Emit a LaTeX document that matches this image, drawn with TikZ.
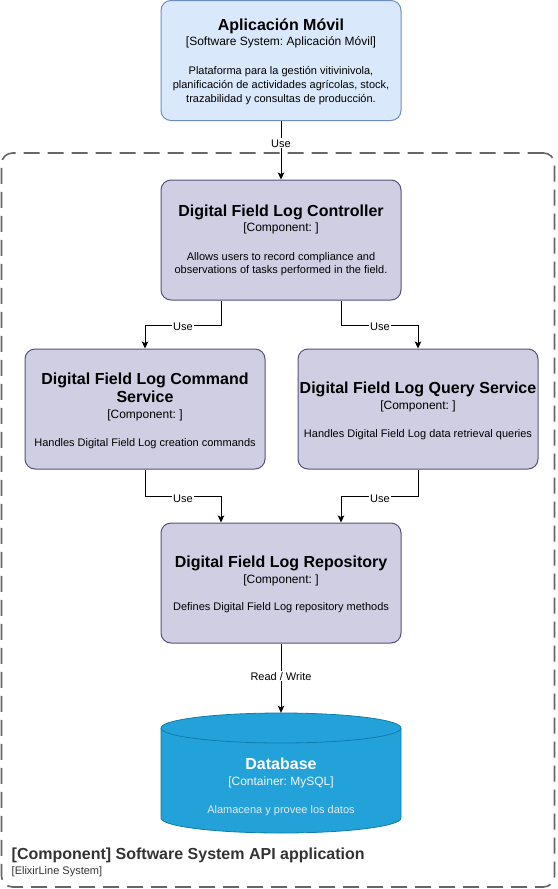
\documentclass[tikz,border=0pt]{standalone}
\usepackage{fontspec}
\setmainfont{Liberation Sans}
\usetikzlibrary{arrows.meta}
\frenchspacing
\definecolor{appfill}{HTML}{DAE8FC}
\definecolor{appline}{HTML}{6C8EBF}
\definecolor{compfill}{HTML}{D0CEE2}
\definecolor{compline}{HTML}{56517E}
\definecolor{dbfill}{HTML}{23A2D9}
\definecolor{dbline}{HTML}{0E7DAD}
\definecolor{bndline}{HTML}{666666}
\definecolor{bndtext}{HTML}{333333}
\definecolor{dbsub}{HTML}{F2F6F9}
\definecolor{dbdesc}{HTML}{E2E9EE}
\begin{document}
\begin{tikzpicture}[x=1pt,y=1pt,
  box/.style={draw, rounded corners=10pt, minimum width=240pt, minimum height=120pt, line width=1pt, inner sep=0pt},
  appbox/.style={box, fill=appfill, draw=appline},
  compbox/.style={box, fill=compfill, draw=compline},
  ttl/.style={font=\bfseries\fontsize{16}{19}\selectfont, inner sep=0pt, anchor=base},
  typ/.style={font=\fontsize{12}{14}\selectfont, inner sep=0pt, anchor=base},
  dsc/.style={font=\fontsize{11}{13}\selectfont, inner sep=0pt, anchor=base},
  rel/.style={draw=black, line width=0.9pt, -{Stealth[length=7pt,width=6.5pt,inset=1.5pt]}},
  rlabel/.style={fill=white, font=\fontsize{11}{13}\selectfont, inner sep=1pt, anchor=base},
  bnd/.style={draw=bndline, rounded corners=11pt, line width=1.6pt, dash pattern=on 16pt off 8pt, inner sep=0pt}
]
\useasboundingbox (0,0) rectangle (557,-889);

% boundary
\node[bnd, minimum width=553pt, minimum height=734pt] (bound) at (278,-520) {};
\node[font=\bfseries\fontsize{16}{19}\selectfont, text=bndtext, inner sep=0pt, anchor=base west] (bndT) at (11.5,-859.3) {[Component] Software System API application};
\node[font=\fontsize{11}{13}\selectfont, text=bndtext, inner sep=0pt, anchor=base west] (bndS) at (11.5,-874.3) {[ElixirLine System]};

% boxes
\node[appbox] (app) at (281,-60.5) {};
\node[ttl] (appT) at (281,-30.3) {Aplicación Móvil};
\node[typ] (appS) at (281,-45.7) {[Software System: Aplicación Móvil]};
\node[dsc] (appD1) at (281,-74.6) {Plataforma para la gestión vitivinivola,};
\node[dsc] (appD2) at (281,-88.6) {planificación de actividades agrícolas, stock,};
\node[dsc] (appD3) at (281,-102.6) {trazabilidad y consultas de producción.};

\node[compbox] (ctrl) at (281,-240) {};
\node[ttl] (ctrlT) at (281,-216) {Digital Field Log Controller};
\node[typ] (ctrlS) at (281,-231) {[Component: ]};
\node[dsc] (ctrlD1) at (281,-260.3) {Allows users to record compliance and};
\node[dsc] (ctrlD2) at (281,-273.8) {observations of tasks performed in the field.};

\node[compbox] (cmd) at (145,-409) {};
\node[ttl] (cmdT1) at (145,-384.3) {Digital Field Log Command};
\node[ttl] (cmdT2) at (145,-402.3) {Service};
\node[typ] (cmdS) at (145,-418) {[Component: ]};
\node[dsc] (cmdD) at (145,-446.6) {Handles Digital Field Log creation commands};

\node[compbox] (qry) at (418,-409) {};
\node[ttl] (qryT) at (418,-393.3) {Digital Field Log Query Service};
\node[typ] (qryS) at (418,-409) {[Component: ]};
\node[dsc] (qryD) at (418,-437.6) {Handles Digital Field Log data retrieval queries};

\node[compbox] (repo) at (281,-583) {};
\node[ttl] (repoT) at (281,-567) {Digital Field Log Repository};
\node[typ] (repoS) at (281,-583) {[Component: ]};
\node[dsc] (repoD) at (281,-610.6) {Defines Digital Field Log repository methods};

% database cylinder
\node[minimum width=240pt, minimum height=120pt, inner sep=0pt] (db) at (281,-773) {};
\filldraw[fill=dbfill, draw=dbline, line width=0.8pt]
  (161,-728) -- (161,-818) arc[start angle=180, end angle=360, x radius=120pt, y radius=15pt]
  -- (401,-728) arc[start angle=0, end angle=180, x radius=120pt, y radius=15pt] -- cycle;
\draw[dbline, line width=0.8pt] (161,-728) arc[start angle=180, end angle=360, x radius=120pt, y radius=15pt];
\node[ttl, text=white] (dbT) at (281,-769.3) {Database};
\node[typ, text=dbsub] (dbS) at (281,-785.7) {[Container: MySQL]};
\node[dsc, text=dbdesc] (dbD) at (281,-813.6) {Alamacena y provee los datos};

% relations
\draw[rel] (app.south) -- (ctrl.north);
\draw[rel] ([xshift=-60pt]ctrl.south) -- ++(0,-24.5) -| (cmd.north);
\draw[rel] ([xshift=60pt]ctrl.south) -- ++(0,-24.5) -| (qry.north);
\draw[rel] (cmd.south) -- ++(0,-27) -| ([xshift=-60pt]repo.north);
\draw[rel] (qry.south) -- ++(0,-27) -| ([xshift=60pt]repo.north);
\draw[rel] (repo.south) -- (db.north);

\node[rlabel] (l1) at (281,-147) {Use};
\node[rlabel] (l2) at (183,-330.5) {Use};
\node[rlabel] (l3) at (380,-330.5) {Use};
\node[rlabel] (l4) at (183,-502) {Use};
\node[rlabel] (l5) at (380,-502) {Use};
\node[rlabel] (l6) at (281,-680) {Read / Write};
\end{tikzpicture}
\end{document}
